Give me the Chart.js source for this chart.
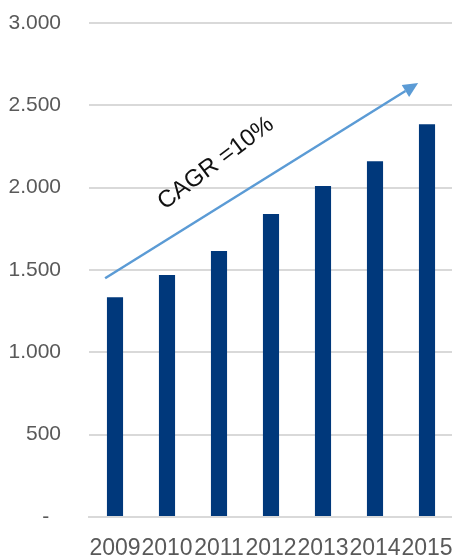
<!DOCTYPE html>
<html>
<head>
<meta charset="utf-8">
<script src="https://cdn.jsdelivr.net/npm/chart.js@4.4.1/dist/chart.umd.min.js"></script>
<style>
  html, body { margin: 0; padding: 0; background: #fff; overflow: hidden; }
  #wrap { position: relative; width: 455px; height: 555px; }
</style>
</head>
<body>
<div id="wrap"><canvas id="myChart"></canvas></div>
<script>
const years = ["2009", "2010", "2011", "2012", "2013", "2014", "2015"];
const values = [1335, 1470, 1615, 1840, 2010, 2160, 2385];
const yTickLabels = ["-  ", "500", "1.000", "1.500", "2.000", "2.500", "3.000"];

// CAGR arrow, in data coordinates (category index, value)
const arrowStart = [-0.19, 1450];
const arrowEnd = [5.83, 2635];
const cagrText = "CAGR =10%";
const cagrPos = [1.94, 2148];

const cagrArrow = {
  id: "cagrArrow",
  afterDatasetsDraw(chart) {
    const { ctx, scales: { x, y } } = chart;
    const x0 = x.getPixelForValue(arrowStart[0]);
    const y0 = y.getPixelForValue(arrowStart[1]);
    const x1 = x.getPixelForValue(arrowEnd[0]);
    const y1 = y.getPixelForValue(arrowEnd[1]);
    const ang = Math.atan2(y1 - y0, x1 - x0);
    const headLen = 15;
    const headW = 7;
    const bx = x1 - headLen * Math.cos(ang);
    const by = y1 - headLen * Math.sin(ang);

    ctx.save();
    ctx.strokeStyle = "#5b9bd5";
    ctx.fillStyle = "#5b9bd5";
    ctx.lineWidth = 2.5;
    ctx.beginPath();
    ctx.moveTo(x0, y0);
    ctx.lineTo(bx, by);
    ctx.stroke();

    ctx.beginPath();
    ctx.moveTo(x1, y1);
    ctx.lineTo(bx + headW * Math.sin(ang), by - headW * Math.cos(ang));
    ctx.lineTo(bx - headW * Math.sin(ang), by + headW * Math.cos(ang));
    ctx.closePath();
    ctx.fill();

    const tx = x.getPixelForValue(cagrPos[0]);
    const ty = y.getPixelForValue(cagrPos[1]);
    ctx.translate(tx, ty);
    ctx.rotate(-37 * Math.PI / 180);
    ctx.fillStyle = "#111";
    ctx.font = "24px 'Liberation Sans', Arial, sans-serif";
    ctx.textAlign = "center";
    ctx.textBaseline = "middle";
    ctx.fillText(cagrText, 0, 0);
    ctx.restore();
  },
};

const ctx = document.getElementById("myChart");
new Chart(ctx, {
  type: "bar",
  data: {
    labels: years,
    datasets: [
      {
        label: "Umsatz",
        data: values,
        backgroundColor: "#00387b",
        borderWidth: 0,
        barPercentage: 0.31,
        categoryPercentage: 1.0,
      },
    ],
  },
  options: {
    responsive: true,
    maintainAspectRatio: false,
    animation: false,
    layout: {
      padding: { top: 23, right: 2, left: 0, bottom: 0 },
    },
    plugins: {
      legend: { display: false },
      tooltip: { enabled: false },
    },
    scales: {
      x: {
        grid: { display: false, drawTicks: false },
        border: { display: true, color: "#d9d9d9", width: 2 },
        ticks: {
          autoSkip: false,
          maxRotation: 0,
          minRotation: 0,
          padding: 18,
          color: "#595959",
          font: { family: "'Liberation Sans', Arial, sans-serif", size: 23 },
        },
        afterFit(scale) {
          scale.height = 38;
          scale.paddingLeft = 0;
          scale.paddingRight = 0;
        },
      },
      y: {
        min: 0,
        max: 3000,
        border: { display: false },
        grid: { color: "#d9d9d9", lineWidth: 2, drawTicks: false },
        ticks: {
          stepSize: 500,
          padding: 28,
          color: "#595959",
          font: { family: "'Liberation Sans', Arial, sans-serif", size: 21 },
          callback: function (value, index) {
            return yTickLabels[index];
          },
        },
        afterFit(scale) {
          scale.width = 89;
          scale.paddingTop = 0;
          scale.paddingBottom = 0;
        },
      },
    },
  },
  plugins: [cagrArrow],
});
</script>
</body>
</html>
